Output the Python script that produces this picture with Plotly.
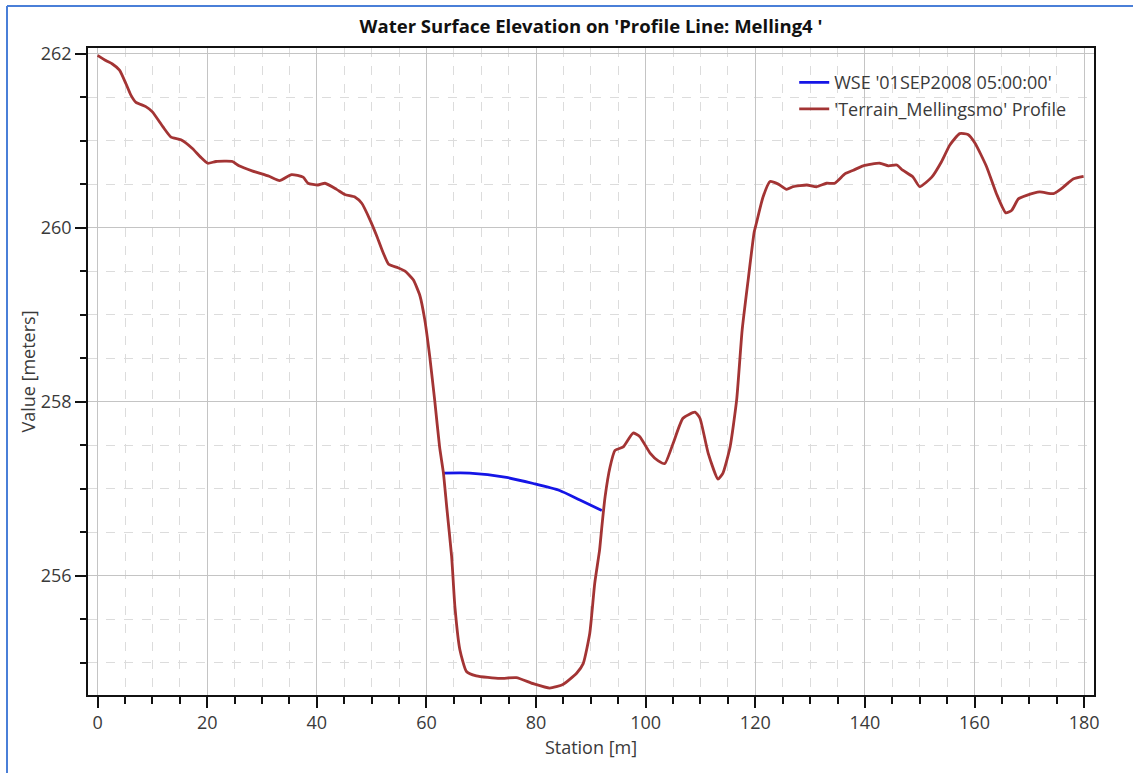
import plotly.graph_objects as go

# Terrain profile along the profile line (station in m, elevation in m)
terrain_station = [
    0.0, 1.5, 2.7, 4.0, 5.2, 6.1, 7.0, 8.8, 10.0, 11.9, 13.4, 15.2, 17.3, 18.8,
    20.1, 21.6, 24.6, 25.8, 28.3, 31.3, 33.2, 35.4, 37.5, 38.4, 40.2, 41.5,
    43.6, 45.1, 47.0, 48.2, 49.7, 50.9, 51.8, 53.1, 54.8, 56.1, 57.6, 58.8,
    59.7, 60.6, 61.5, 62.4, 63.1, 63.7, 64.6, 65.2, 66.1, 67.3, 69.1, 73.4,
    76.4, 79.5, 82.5, 84.9, 87.4, 88.6, 89.8, 90.7, 91.6, 92.0, 92.6, 93.5,
    94.4, 95.9, 97.7, 98.9, 100.8, 102.3, 103.5, 105.0, 106.8, 109.0, 109.9,
    111.4, 113.2, 114.1, 115.4, 116.6, 117.6, 118.7, 119.8, 120.2, 121.4,
    122.7, 124.2, 125.7, 126.9, 129.4, 131.2, 133.0, 134.5, 136.4, 137.9,
    139.7, 142.7, 144.3, 145.8, 146.9, 148.8, 150.0, 152.2, 154.0, 155.5,
    157.3, 158.8, 160.1, 162.2, 164.0, 165.7, 166.8, 168.0, 169.5, 171.9,
    174.4, 175.9, 178.0, 179.9,
]
terrain_elev = [
    261.98, 261.92, 261.88, 261.81, 261.65, 261.52, 261.44, 261.39, 261.33,
    261.16, 261.04, 261.01, 260.91, 260.81, 260.74, 260.76, 260.76, 260.71,
    260.65, 260.59, 260.54, 260.61, 260.58, 260.51, 260.49, 260.51, 260.44,
    260.38, 260.35, 260.28, 260.09, 259.91, 259.76, 259.58, 259.54, 259.50,
    259.40, 259.22, 258.94, 258.52, 258.02, 257.48, 257.18, 256.79, 256.22,
    255.64, 255.15, 254.90, 254.85, 254.82, 254.83, 254.76, 254.71, 254.75,
    254.88, 254.99, 255.34, 255.91, 256.30, 256.56, 256.91, 257.25, 257.44,
    257.48, 257.64, 257.60, 257.41, 257.32, 257.29, 257.52, 257.81, 257.88,
    257.81, 257.41, 257.11, 257.18, 257.48, 258.02, 258.82, 259.40, 259.95,
    260.05, 260.35, 260.53, 260.50, 260.44, 260.47, 260.49, 260.47, 260.51,
    260.51, 260.62, 260.66, 260.71, 260.74, 260.71, 260.72, 260.66, 260.58,
    260.47, 260.58, 260.76, 260.95, 261.08, 261.07, 260.97, 260.70, 260.39,
    260.17, 260.20, 260.33, 260.37, 260.41, 260.39, 260.45, 260.56, 260.59,
]

# Water surface elevation at 01SEP2008 05:00:00
wse_station = [63.1, 67.9, 74.6, 79.5, 84.3, 88.0, 92.0]
wse_elev = [257.18, 257.18, 257.13, 257.06, 256.98, 256.87, 256.75]

x_ticks = [0, 20, 40, 60, 80, 100, 120, 140, 160, 180]
y_ticks = [256, 258, 260, 262]

FONT = "Open Sans"
TEXT = "#3a3a3a"

fig = go.Figure()
fig.add_trace(go.Scatter(
    x=wse_station, y=wse_elev, mode="lines",
    name="WSE '01SEP2008 05:00:00'",
    line=dict(color="#1515e6", width=2.8, shape="spline", smoothing=0.6),
))
fig.add_trace(go.Scatter(
    x=terrain_station, y=terrain_elev, mode="lines",
    name="'Terrain_Mellingsmo' Profile",
    line=dict(color="#a33434", width=2.8, shape="spline", smoothing=0.5),
))

fig.update_layout(
    width=1133, height=773,
    margin=dict(l=88, r=39, t=48, b=78),
    paper_bgcolor="white", plot_bgcolor="white",
    font=dict(family=FONT, color=TEXT, size=18),
    title=dict(
        text="<b>Water Surface Elevation on 'Profile Line: Melling4 '</b>",
        x=0.5, xref="paper", xanchor="center",
        y=1 - 27 / 773, yanchor="middle",
        font=dict(family=FONT, size=18.5, color="#111111"),
    ),
    legend=dict(
        x=0.702, y=0.975, xanchor="left", yanchor="top",
        bgcolor="rgba(255,255,255,0)", borderwidth=0,
        font=dict(family=FONT, size=18, color=TEXT),
        itemwidth=30,
    ),
    showlegend=True,
)

fig.update_xaxes(
    range=[-1.75, 181.8],
    tickvals=x_ticks, ticktext=[str(v) for v in x_ticks],
    ticks="outside", ticklen=11, tickwidth=1.5, tickcolor="#111111",
    showline=True, linecolor="#111111", linewidth=1.5, mirror=True,
    showgrid=True, gridcolor="#c4c4c4", gridwidth=1,
    zeroline=False,
    tickfont=dict(family=FONT, size=18, color=TEXT),
    title=dict(text="Station [m]", font=dict(family=FONT, size=18, color=TEXT), standoff=8),
    minor=dict(dtick=5, tick0=0, ticks="outside", ticklen=7, tickwidth=1.5,
               tickcolor="#111111", showgrid=True, gridcolor="#dcdcdc",
               griddash="dash", gridwidth=1),
)
fig.update_yaxes(
    range=[254.63, 262.064],
    tickvals=y_ticks, ticktext=[str(v) for v in y_ticks],
    ticks="outside", ticklen=11, tickwidth=1.5, tickcolor="#111111",
    showline=True, linecolor="#111111", linewidth=1.5, mirror=True,
    showgrid=True, gridcolor="#c4c4c4", gridwidth=1,
    zeroline=False,
    tickfont=dict(family=FONT, size=18, color=TEXT),
    title=dict(text="Value [meters]", font=dict(family=FONT, size=18, color=TEXT), standoff=0),
    minor=dict(dtick=0.5, tick0=256, ticks="outside", ticklen=6, tickwidth=1.5,
               tickcolor="#111111", showgrid=True, gridcolor="#dcdcdc",
               griddash="dash", gridwidth=1),
)

# window frame edges (left and top)
fig.add_shape(type="line", xref="paper", yref="paper",
              x0=(7 - 88) / 1006, x1=(7 - 88) / 1006,
              y0=(695 - 6) / 647, y1=-0.2,
              line=dict(color="#4a7fd8", width=2))
fig.add_shape(type="line", xref="paper", yref="paper",
              x0=(7 - 88) / 1006, x1=1.1,
              y0=(695 - 6) / 647, y1=(695 - 6) / 647,
              line=dict(color="#4a7fd8", width=2))

fig.write_html("out.html")
